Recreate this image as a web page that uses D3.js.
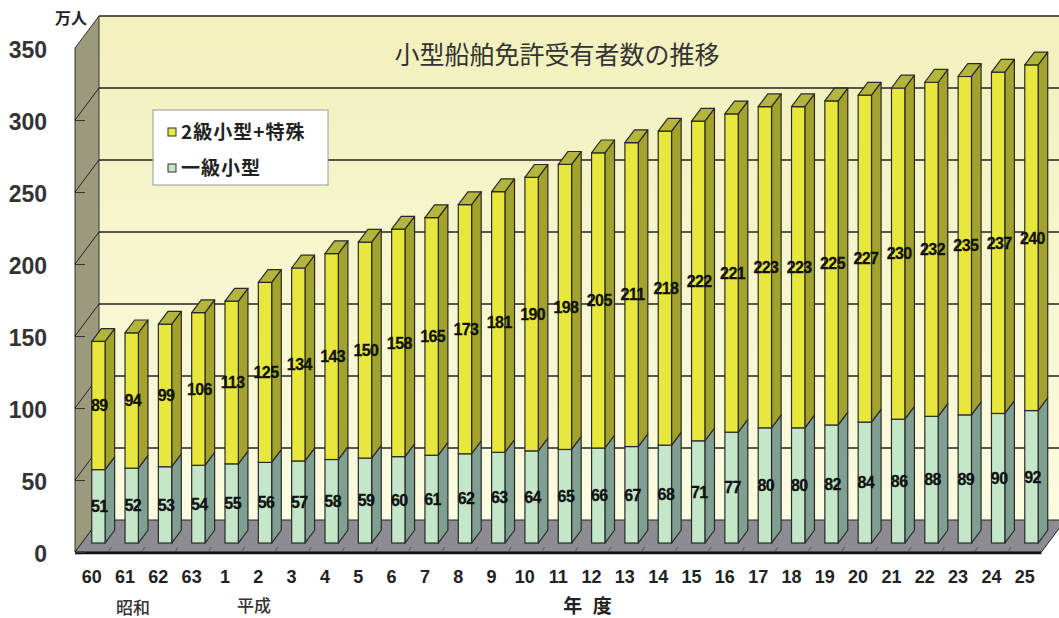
<!DOCTYPE html>
<html>
<head>
<meta charset="utf-8">
<script src="https://cdn.jsdelivr.net/npm/d3@7"></script>
<style>
  body { margin: 0; background: #fff; }
  svg { display: block; }
</style>
</head>
<body>
<svg id="chart" width="1059" height="618"></svg>
<script>
// years (昭和60-63, 平成1-25)
const categories = ['60', '61', '62', '63', '1', '2', '3', '4', '5', '6', '7', '8', '9', '10',
  '11', '12', '13', '14', '15', '16', '17', '18', '19', '20', '21', '22', '23', '24', '25'];
// 一級小型 (万人)
const firstClass = [51, 52, 53, 54, 55, 56, 57, 58, 59, 60, 61, 62, 63, 64,
  65, 66, 67, 68, 71, 77, 80, 80, 82, 84, 86, 88, 89, 90, 92];
// 2級小型+特殊 (万人)
const secondClass = [89, 94, 99, 106, 113, 125, 134, 143, 150, 158, 165, 173, 181, 190,
  198, 205, 211, 218, 222, 221, 223, 223, 225, 227, 230, 232, 235, 237, 240];
const yTicks = [0, 50, 100, 150, 200, 250, 300, 350];
const seriesNames = ['2級小型+特殊', '一級小型'];

const svg = d3.select('#chart');
const cjk = '"Noto Sans CJK JP", "Noto Sans", sans-serif';
const latin = '"Liberation Sans", Arial, sans-serif';

// front plane of the 3d box
const boxLeft = 75;
const boxRight = 1041.4;
const boxBottom = 552;
const boxTop = 48;
// depth of the box
const depthX = 24;
const depthY = -32;
const off = (t) => [depthX * t, depthY * t];
// bars stand between these depths
const [fx, fy] = off(0.28);
const [bx, by] = off(0.68);

const x = d3.scaleBand().domain(categories).range([boxLeft, boxRight]).paddingInner(0.6).paddingOuter(0.3);
const y = d3.scaleLinear().domain([0, 350]).range([boxBottom, boxTop]);

const defs = svg.append('defs');
const wallFill = defs.append('linearGradient').attr('id', 'wallFill').attr('x1', 0).attr('y1', 0).attr('x2', 0).attr('y2', 1);
wallFill.append('stop').attr('offset', '0%').attr('stop-color', '#f2f0bc');
wallFill.append('stop').attr('offset', '100%').attr('stop-color', '#fbfbe1');

// ---- walls ----
svg.append('rect')
  .attr('x', boxLeft + depthX)
  .attr('y', boxTop + depthY)
  .attr('width', boxRight - boxLeft + 40)
  .attr('height', boxBottom - boxTop)
  .attr('fill', 'url(#wallFill)');

svg.append('line')
  .attr('x1', boxLeft + depthX)
  .attr('x2', 1059)
  .attr('y1', boxTop + depthY)
  .attr('y2', boxTop + depthY)
  .attr('stroke', '#222')
  .attr('stroke-width', 1.5);

svg.append('polygon')
  .attr('points', [[boxLeft, boxTop], [boxLeft + depthX, boxTop + depthY], [boxLeft + depthX, boxBottom + depthY], [boxLeft, boxBottom]].join(' '))
  .attr('fill', '#9b9a7c')
  .attr('stroke', '#333')
  .attr('stroke-width', 1);

svg.append('polygon')
  .attr('points', [[boxLeft, boxBottom], [boxRight, boxBottom], [boxRight + depthX, boxBottom + depthY], [boxLeft + depthX, boxBottom + depthY]].join(' '))
  .attr('fill', '#8c8c92')
  .attr('stroke', '#222')
  .attr('stroke-width', 1);

// gridlines on back and side walls
const grid = svg.append('g').attr('class', 'grid');
grid.selectAll('line.back')
  .data(yTicks.filter((d) => d > 0 && d < 350))
  .join('line')
  .attr('class', 'back')
  .attr('x1', boxLeft + depthX)
  .attr('x2', 1059)
  .attr('y1', (d) => y(d) + depthY)
  .attr('y2', (d) => y(d) + depthY)
  .attr('stroke', '#222')
  .attr('stroke-width', 1.3);
grid.selectAll('line.side')
  .data(yTicks.filter((d) => d > 0 && d < 350))
  .join('line')
  .attr('class', 'side')
  .attr('x1', boxLeft)
  .attr('x2', boxLeft + depthX)
  .attr('y1', (d) => y(d))
  .attr('y2', (d) => y(d) + depthY)
  .attr('stroke', '#222')
  .attr('stroke-width', 1);

// floor ticks at category boundaries
svg.append('g')
  .selectAll('line')
  .data(categories.slice(1))
  .join('line')
  .attr('x1', (d) => x(d) - x.step() * 0.3)
  .attr('x2', (d) => x(d) - x.step() * 0.3 + 3)
  .attr('y1', boxBottom)
  .attr('y2', boxBottom - 5)
  .attr('stroke', '#555')
  .attr('stroke-width', 1);

svg.append('line')
  .attr('x1', boxLeft)
  .attr('x2', boxRight)
  .attr('y1', boxBottom + 1)
  .attr('y2', boxBottom + 1)
  .attr('stroke', '#111')
  .attr('stroke-width', 2.5);

// ---- bars ----
const stacked = categories.map((c, i) => ({
  cat: c,
  segs: [
    { v0: 0, v1: firstClass[i], value: firstClass[i], front: '#c4e6c9', side: '#7f9f90' },
    { v0: firstClass[i], v1: firstClass[i] + secondClass[i], value: secondClass[i], front: '#e8e83c', side: '#a2a22c', topFace: '#b3b53c' }
  ]
}));

const bw = x.bandwidth();
const bars = svg.append('g').attr('class', 'bars');
stacked.forEach((d) => {
  const x0 = x(d.cat);
  const x1 = x0 + bw;
  const g = bars.append('g');
  d.segs.forEach((s) => {
    const yt = y(s.v1);
    const yb = y(s.v0);
    g.append('polygon')
      .attr('points', [[x1 + fx, yt + fy], [x1 + bx, yt + by], [x1 + bx, yb + by], [x1 + fx, yb + fy]].join(' '))
      .attr('fill', s.side)
      .attr('stroke', '#2a2a2a')
      .attr('stroke-width', 1.2)
      .attr('stroke-linejoin', 'round');
    g.append('rect')
      .attr('x', x0 + fx)
      .attr('y', yt + fy)
      .attr('width', bw)
      .attr('height', yb - yt)
      .attr('fill', s.front)
      .attr('stroke', '#2a2a2a')
      .attr('stroke-width', 1.2);
    if (s.topFace) {
      g.append('polygon')
        .attr('points', [[x0 + fx, yt + fy], [x1 + fx, yt + fy], [x1 + bx, yt + by], [x0 + bx, yt + by]].join(' '))
        .attr('fill', s.topFace)
        .attr('stroke', '#2a2a2a')
        .attr('stroke-width', 1.2)
        .attr('stroke-linejoin', 'round');
    }
  });
});

// value labels
const labels = svg.append('g').attr('class', 'labels')
  .style('font', `bold 16px ${latin}`)
  .attr('fill', '#111')
  .attr('text-anchor', 'middle');
stacked.forEach((d) => {
  d.segs.forEach((s) => {
    labels.append('text')
      .attr('x', x(d.cat) + bw / 2 + fx + 1)
      .attr('y', (y(s.v0) + y(s.v1)) / 2 + fy)
      .attr('dy', '0.36em')
      .attr('letter-spacing', -0.6)
      .attr('stroke', '#111')
      .attr('stroke-width', 0.3)
      .text(s.value);
  });
});

// ---- axes ----
const yAxis = svg.append('g')
  .attr('transform', `translate(${boxLeft},0)`)
  .call(d3.axisLeft(y).tickValues(yTicks).tickSizeInner(-10).tickSizeOuter(0).tickPadding(28));
yAxis.select('.domain').remove();
yAxis.selectAll('.tick line').attr('stroke', '#333');
yAxis.selectAll('.tick text')
  .style('font', `bold 23px ${latin}`)
  .attr('fill', '#333')
  .attr('dy', '0.4em');
yAxis.select('.tick:last-of-type line').remove();

const xAxis = svg.append('g')
  .attr('transform', `translate(0,${boxBottom})`)
  .call(d3.axisBottom(x).tickSize(0).tickPadding(18));
xAxis.select('.domain').remove();
xAxis.selectAll('.tick text')
  .style('font', `bold 18px ${latin}`)
  .attr('fill', '#222');

// era names and axis title
svg.append('text').attr('x', 133).attr('y', 614).attr('text-anchor', 'middle')
  .style('font', `500 17px ${cjk}`).attr('fill', '#333').text('昭和');
svg.append('text').attr('x', 254).attr('y', 612).attr('text-anchor', 'middle')
  .style('font', `500 17px ${cjk}`).attr('fill', '#333').text('平成');
svg.append('text').attr('x', 589).attr('y', 613).attr('text-anchor', 'middle')
  .attr('letter-spacing', 3)
  .style('font', `bold 19px ${cjk}`).attr('fill', '#222').text('年 度');

// unit
svg.append('text').attr('x', 55).attr('y', 24)
  .style('font', `bold 16px ${cjk}`).attr('fill', '#222').text('万人');

// title
svg.append('text').attr('x', 557).attr('y', 64).attr('text-anchor', 'middle')
  .style('font', `25px ${cjk}`).attr('fill', '#333').text('小型船舶免許受有者数の推移');

// ---- legend ----
const legend = svg.append('g').attr('transform', 'translate(153,110)');
legend.append('rect')
  .attr('width', 175)
  .attr('height', 75)
  .attr('fill', '#fff')
  .attr('stroke', '#999')
  .attr('stroke-width', 1);
const legendColors = ['#e8e83c', '#c4e6c9'];
seriesNames.forEach((name, i) => {
  const row = legend.append('g').attr('transform', `translate(0,${22 + i * 36})`);
  row.append('rect')
    .attr('x', 15)
    .attr('y', -4)
    .attr('width', 8)
    .attr('height', 8)
    .attr('fill', legendColors[i])
    .attr('stroke', '#333')
    .attr('stroke-width', 1);
  row.append('text')
    .attr('x', 28)
    .attr('dy', '0.36em')
    .attr('letter-spacing', 1)
    .style('font', `bold 19px ${cjk}`)
    .attr('fill', '#222')
    .text(name);
});
</script>
</body>
</html>
